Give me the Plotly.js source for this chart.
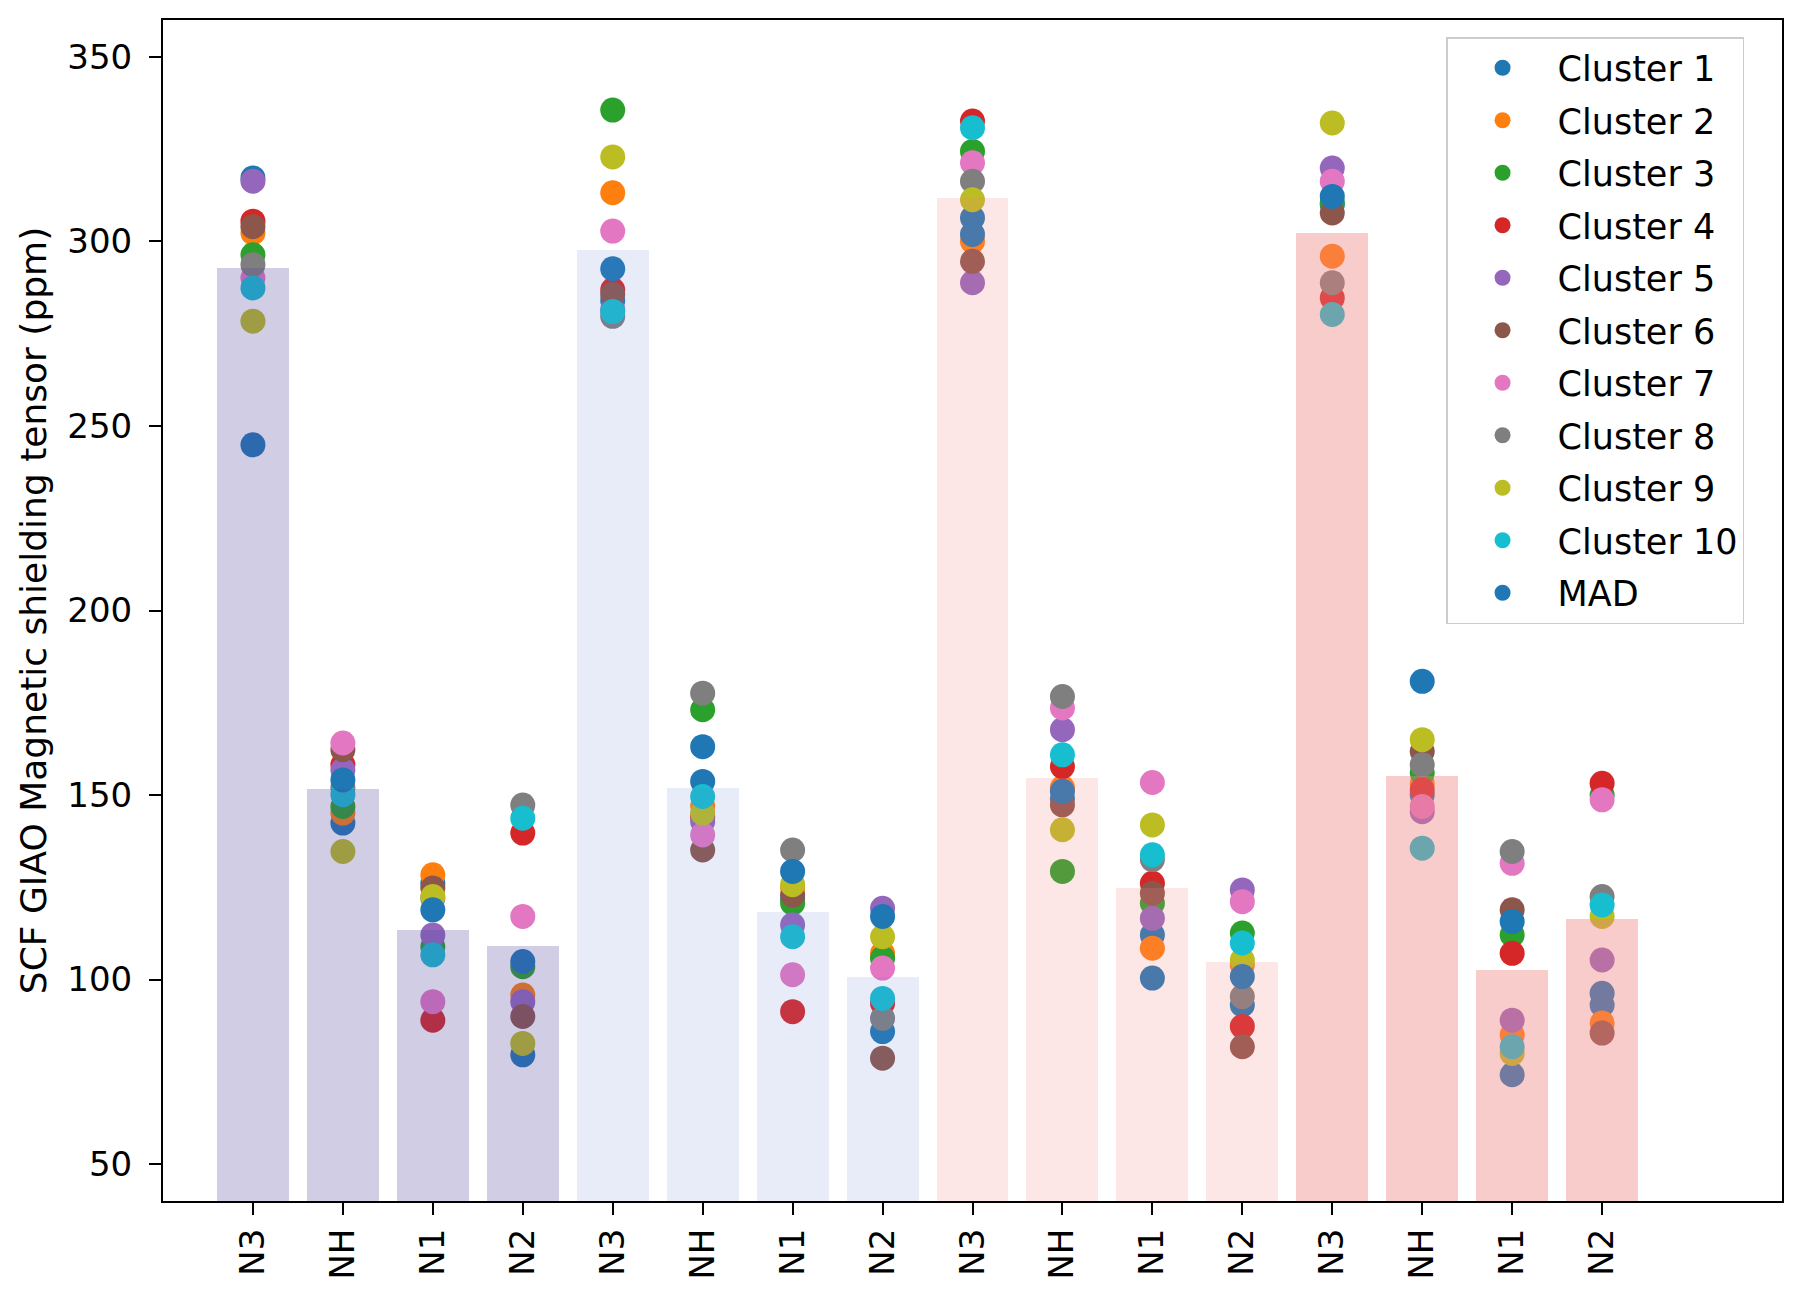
<!DOCTYPE html>
<html>
<head>
<meta charset="utf-8">
<script src="https://cdn.plot.ly/plotly-3.0.1.min.js"></script>
<style>html,body{margin:0;padding:0;background:#fff;}#chart{width:1800px;height:1300px;}</style>
</head>
<body>
<div id="chart"></div>
<script>
// ---- data ----
const categories = ['N3','NH','N1','N2','N3','NH','N1','N2','N3','NH','N1','N2','N3','NH','N1','N2'];
const barValues = [292.9,151.7,113.5,109.1, 297.7,152.0,118.4,100.7, 311.7,154.5,124.7,104.7, 302.4,155.2,102.6,116.3];
const barColors = [
  'rgba(80,70,160,0.27)','rgba(80,70,160,0.27)','rgba(80,70,160,0.27)','rgba(80,70,160,0.27)',
  'rgba(100,130,210,0.15)','rgba(100,130,210,0.15)','rgba(100,130,210,0.15)','rgba(100,130,210,0.15)',
  'rgba(240,128,128,0.2)','rgba(240,128,128,0.2)','rgba(240,128,128,0.2)','rgba(240,128,128,0.2)',
  'rgba(240,128,128,0.4)','rgba(240,128,128,0.4)','rgba(240,128,128,0.4)','rgba(240,128,128,0.4)'
];

const cluster1  = [317.2,142.4,126.1, 79.6, 284.0,153.7,122.0, 85.9, 306.4,149.0,112.1, 93.1, 310.0,150.0, 74.2, 93.1];
const cluster2  = [302.3,145.1,128.4, 95.8, 313.2,147.0,124.8,107.1, 300.0,152.0,108.5,104.0, 296.0,153.0, 85.0, 88.2];
const cluster3  = [296.4,146.9,108.9,103.5, 335.6,173.1,120.7,105.8, 324.4,129.3,120.7,112.6, 310.5,156.0,112.1,150.0];
const cluster4  = [305.5,158.2, 89.0,139.7, 286.9,144.0, 91.3, 93.6, 332.6,157.7,126.1, 87.3, 284.7,151.4,107.1,153.2];
const cluster5  = [316.3,156.8,112.1, 94.0, 281.5,142.8,114.8,119.3, 288.8,167.7,116.6,124.3, 319.9,145.5, 89.0,105.3];
const cluster6  = [304.0,162.3,124.8, 90.0, 285.6,135.1,122.9, 78.7, 294.6,147.3,123.4, 81.8, 307.7,161.8,118.9, 85.5];
const cluster7  = [290.1,164.1, 94.0,117.1, 302.8,139.2,101.3,103.1, 321.3,173.6,153.4,121.1, 316.3,146.9,131.5,148.7];
const cluster8  = [293.7,152.0,122.0,147.3, 279.7,177.6,135.1, 89.5, 316.3,176.7,132.5, 95.4, 288.8,158.2,134.7,122.5];
const cluster9  = [278.4,134.7,122.5, 82.7, 322.9,145.1,125.7,111.6, 311.3,140.6,141.9,105.3, 332.1,165.0, 80.0,117.1];
const cluster10 = [287.4,150.1,106.7,143.7, 281.0,149.6,111.6, 94.9, 330.8,160.9,133.8,109.9, 280.2,135.6, 81.8,120.2];
const mad       = [244.9,154.1,118.9,104.9, 292.6,163.1,129.3,117.1, 301.9,151.0,100.4,100.8, 312.2,180.8,115.7, 96.3];

const seriesNames = ['Cluster 1','Cluster 2','Cluster 3','Cluster 4','Cluster 5','Cluster 6','Cluster 7','Cluster 8','Cluster 9','Cluster 10','MAD'];
const seriesValues = [cluster1,cluster2,cluster3,cluster4,cluster5,cluster6,cluster7,cluster8,cluster9,cluster10,mad];
const seriesColors = ['#1f77b4','#ff7f0e','#2ca02c','#d62728','#9467bd','#8c564b','#e377c2','#7f7f7f','#bcbd22','#17becf','#1f77b4'];

const positions = categories.map((c,i)=>i);
const FONT = 'DejaVu Sans, Verdana, sans-serif';

const traces = [];
seriesNames.forEach((name, k) => {
  traces.push({
    type: 'scatter', mode: 'markers', name: name,
    x: positions, y: seriesValues[k],
    marker: {color: seriesColors[k], size: 25, line: {width: 0}},
    legendgroup: 'g' + k, showlegend: true,
    xaxis: 'x', yaxis: 'y'
  });
});
// bars drawn on an overlaid axis so they sit on top of the dots (translucent)
traces.push({
  type: 'bar', x: positions, y: barValues, width: 0.8,
  marker: {color: barColors, line: {width: 0}},
  showlegend: false, hoverinfo: 'skip',
  xaxis: 'x2', yaxis: 'y2'
});

const xr = [-1, 17], yr = [40, 360];
const layout = {
  width: 1800, height: 1300,
  paper_bgcolor: '#fff', plot_bgcolor: '#fff',
  margin: {l: 163, r: 18, t: 20, b: 99},
  font: {family: FONT, color: '#000', size: 32},
  showlegend: true,
  legend: {
    x: 0.7925, y: 0.9856, xanchor: 'left', yanchor: 'top',
    bordercolor: '#cccccc', borderwidth: 1.5, bgcolor: 'rgba(255,255,255,0.85)',
    font: {family: FONT, size: 35, color: '#000'},
    traceorder: 'grouped', tracegroupgap: 4, itemwidth: 100
  },
  xaxis: {
    range: xr, tickmode: 'array', tickvals: positions, ticktext: categories,
    tickangle: -90, ticks: 'outside', ticklen: 12, tickwidth: 2, tickcolor: '#000',
    showline: true, linecolor: '#000', linewidth: 2, mirror: true,
    showgrid: false, zeroline: false, tickfont: {size: 34, family: FONT}
  },
  yaxis: {
    range: yr, tickmode: 'array', tickvals: [50,100,150,200,250,300,350],
    ticks: 'outside', ticklen: 12, tickwidth: 2, tickcolor: '#000', ticklabelstandoff: 10,
    showline: true, linecolor: '#000', linewidth: 2, mirror: true,
    showgrid: false, zeroline: false, tickfont: {size: 34, family: FONT},
    title: {text: 'SCF GIAO Magnetic shielding tensor (ppm)', font: {size: 36, family: FONT}, standoff: 10}
  },
  xaxis2: {range: xr, overlaying: 'x', visible: false, showgrid: false, zeroline: false},
  yaxis2: {range: yr, overlaying: 'y', visible: false, showgrid: false, zeroline: false},
  bargap: 0
};
Plotly.newPlot('chart', traces, layout, {displayModeBar: false, staticPlot: true});
</script>
</body>
</html>
